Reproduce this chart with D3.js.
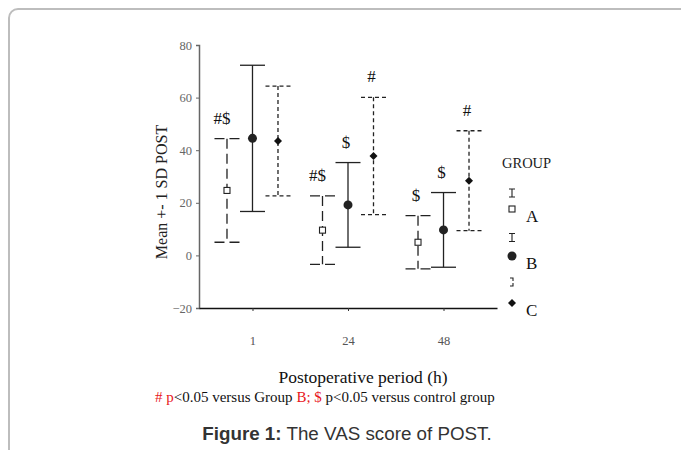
<!DOCTYPE html>
<html>
<head>
<meta charset="utf-8">
<script src="https://cdn.jsdelivr.net/npm/d3@7"></script>
<style>
  html, body { margin: 0; padding: 0; background: #fff; }
  svg { display: block; }
</style>
</head>
<body>
<svg id="chart" width="681" height="450"></svg>
<script>
// ---- data ----
const periods = ["1", "24", "48"];
const groups = ["A", "B", "C"];
const yTicks = [-20, 0, 20, 40, 60, 80];
// means and SDs per group, in period order
const meanA = [24.7, 9.6, 5.0];
const sdA   = [19.7, 13.0, 10.1];
const meanB = [44.5, 19.2, 9.7];
const sdB   = [27.8, 16.1, 14.2];
const meanC = [43.5, 37.8, 28.4];
const sdC   = [20.9, 22.3, 19.0];
// significance marks
const marksA = ["#$", "#$", "$"];
const marksB = ["", "$", "$"];
const marksC = ["", "#", "#"];

const rows = [];
periods.forEach((p, i) => {
  rows.push({ period: p, group: "A", mean: meanA[i], sd: sdA[i], mark: marksA[i] });
  rows.push({ period: p, group: "B", mean: meanB[i], sd: sdB[i], mark: marksB[i] });
  rows.push({ period: p, group: "C", mean: meanC[i], sd: sdC[i], mark: marksC[i] });
});

const svg = d3.select("#chart");
const serif = "'Liberation Serif', 'Times New Roman', serif";

// frame
svg.append("rect").attr("x", 9).attr("y", 9).attr("width", 720).attr("height", 500)
  .attr("rx", 9).attr("fill", "none").attr("stroke", "#bdbdbd").attr("stroke-width", 2);

const x = d3.scalePoint().domain(periods).range([199, 497]).padding(0.56);
const off = d3.scalePoint().domain(groups).range([-25.5, 25.5]);
const y = d3.scaleLinear().domain([-20, 80]).range([308, 45]);

const dash = { A: "10,5", B: null, C: "4,3" };
const capHalf = 12.5;

// y axis
const yAxis = svg.append("g").attr("transform", "translate(199,0)")
  .call(d3.axisLeft(y).tickValues(yTicks).tickSize(3).tickPadding(4)
    .tickFormat(d => d < 0 ? "\u221220" : d));
yAxis.select(".domain").attr("stroke", "#666").attr("stroke-width", 1.5);
yAxis.selectAll(".tick line").attr("stroke", "#666");
yAxis.selectAll("text").attr("font-family", serif).attr("font-size", 12.5).attr("fill", "#666");

// x axis
const xAxis = svg.append("g").attr("transform", "translate(0,308)")
  .call(d3.axisBottom(x).tickSize(3).tickPadding(25).tickSizeOuter(0));
xAxis.select(".domain").attr("stroke", "#111").attr("stroke-width", 1.5);
xAxis.selectAll(".tick line").attr("stroke", "#333");
xAxis.selectAll("text").attr("font-family", serif).attr("font-size", 12.5).attr("fill", "#555");

// error bars
const bars = svg.append("g").selectAll("g").data(rows).join("g")
  .attr("transform", d => `translate(${x(d.period) + off(d.group)},0)`);
bars.append("line")
  .attr("y1", d => y(d.mean + d.sd)).attr("y2", d => y(d.mean - d.sd))
  .attr("stroke", "#222").attr("stroke-width", 1.3)
  .attr("stroke-dasharray", d => dash[d.group]);
bars.selectAll("line.cap").data(d => [d.mean + d.sd, d.mean - d.sd].map(v => ({ v, g: d.group })))
  .join("line").attr("class", "cap")
  .attr("x1", -capHalf).attr("x2", capHalf)
  .attr("y1", c => y(c.v)).attr("y2", c => y(c.v))
  .attr("stroke", "#222").attr("stroke-width", 1.3)
  .attr("stroke-dasharray", c => dash[c.g]);

// markers
function marker(sel, g, cy) {
  if (g === "A") {
    sel.append("rect").attr("x", -3).attr("y", cy - 3).attr("width", 6).attr("height", 6)
      .attr("fill", "#fff").attr("stroke", "#222").attr("stroke-width", 1.1);
  } else if (g === "B") {
    sel.append("circle").attr("cx", 0).attr("cy", cy).attr("r", 4.5).attr("fill", "#222");
  } else {
    sel.append("path").attr("d", `M0,${cy - 4}L4,${cy}L0,${cy + 4}L-4,${cy}Z`).attr("fill", "#111");
  }
}
bars.each(function (d) { marker(d3.select(this), d.group, y(d.mean)); });

// significance marks
bars.append("text")
  .attr("x", d => d.mark.length > 1 ? -5 : -2)
  .attr("y", d => y(d.mean + d.sd) - 15)
  .attr("text-anchor", "middle")
  .attr("font-family", serif).attr("font-size", 17).attr("fill", "#111")
  .text(d => d.mark);

// y axis title
svg.append("text")
  .attr("transform", "translate(167,192) rotate(-90)")
  .attr("text-anchor", "middle")
  .attr("font-family", serif).attr("font-size", 16).attr("fill", "#222")
  .text("Mean +- 1 SD POST");

// x axis title
svg.append("text").attr("x", 363).attr("y", 383).attr("text-anchor", "middle")
  .attr("font-family", serif).attr("font-size", 17.5).attr("fill", "#111")
  .text("Postoperative period (h)");

// legend
const leg = svg.append("g");
leg.append("text").attr("x", 502).attr("y", 168)
  .attr("font-family", serif).attr("font-size", 14.5).attr("fill", "#222").text("GROUP");
const legY = d3.scalePoint().domain(groups).range([209, 303]);
groups.forEach(g => {
  const my = legY(g);
  const ly = my - 16 - groups.indexOf(g) * 2.5;
  const gg = leg.append("g").attr("transform", "translate(512,0)");
  if (g !== "C") {
    gg.append("path").attr("d", `M-3,${ly - 4}H3M0,${ly - 4}V${ly + 4}M-3,${ly + 4}H3`)
      .attr("fill", "none").attr("stroke", "#222").attr("stroke-width", 1.1);
  } else {
    gg.append("path").attr("d", `M-2,${ly - 4}H1V${ly - 1}M1,${ly + 1}V${ly + 4}H-2`)
      .attr("fill", "none").attr("stroke", "#222").attr("stroke-width", 1.1);
  }
  marker(gg, g, my);
  leg.append("text").attr("x", 526).attr("y", my + 13)
    .attr("font-family", serif).attr("font-size", 17).attr("fill", "#111").text(g);
});

// footnote
const foot = svg.append("text").attr("x", 155).attr("y", 402)
  .attr("font-family", serif).attr("font-size", 15).attr("fill", "#111");
foot.append("tspan").attr("fill", "#e8161b").text("# p");
foot.append("tspan").text("<0.05 versus Group ");
foot.append("tspan").attr("fill", "#e8161b").text("B; $");
foot.append("tspan").text(" p<0.05 versus control group");

// caption
const cap = svg.append("text").attr("x", 347).attr("y", 440).attr("text-anchor", "middle")
  .attr("font-family", "'Liberation Sans', Arial, sans-serif").attr("font-size", 18.8).attr("fill", "#333");
cap.append("tspan").attr("font-weight", "bold").text("Figure 1:");
cap.append("tspan").text(" The VAS score of POST.");
</script>
</body>
</html>
